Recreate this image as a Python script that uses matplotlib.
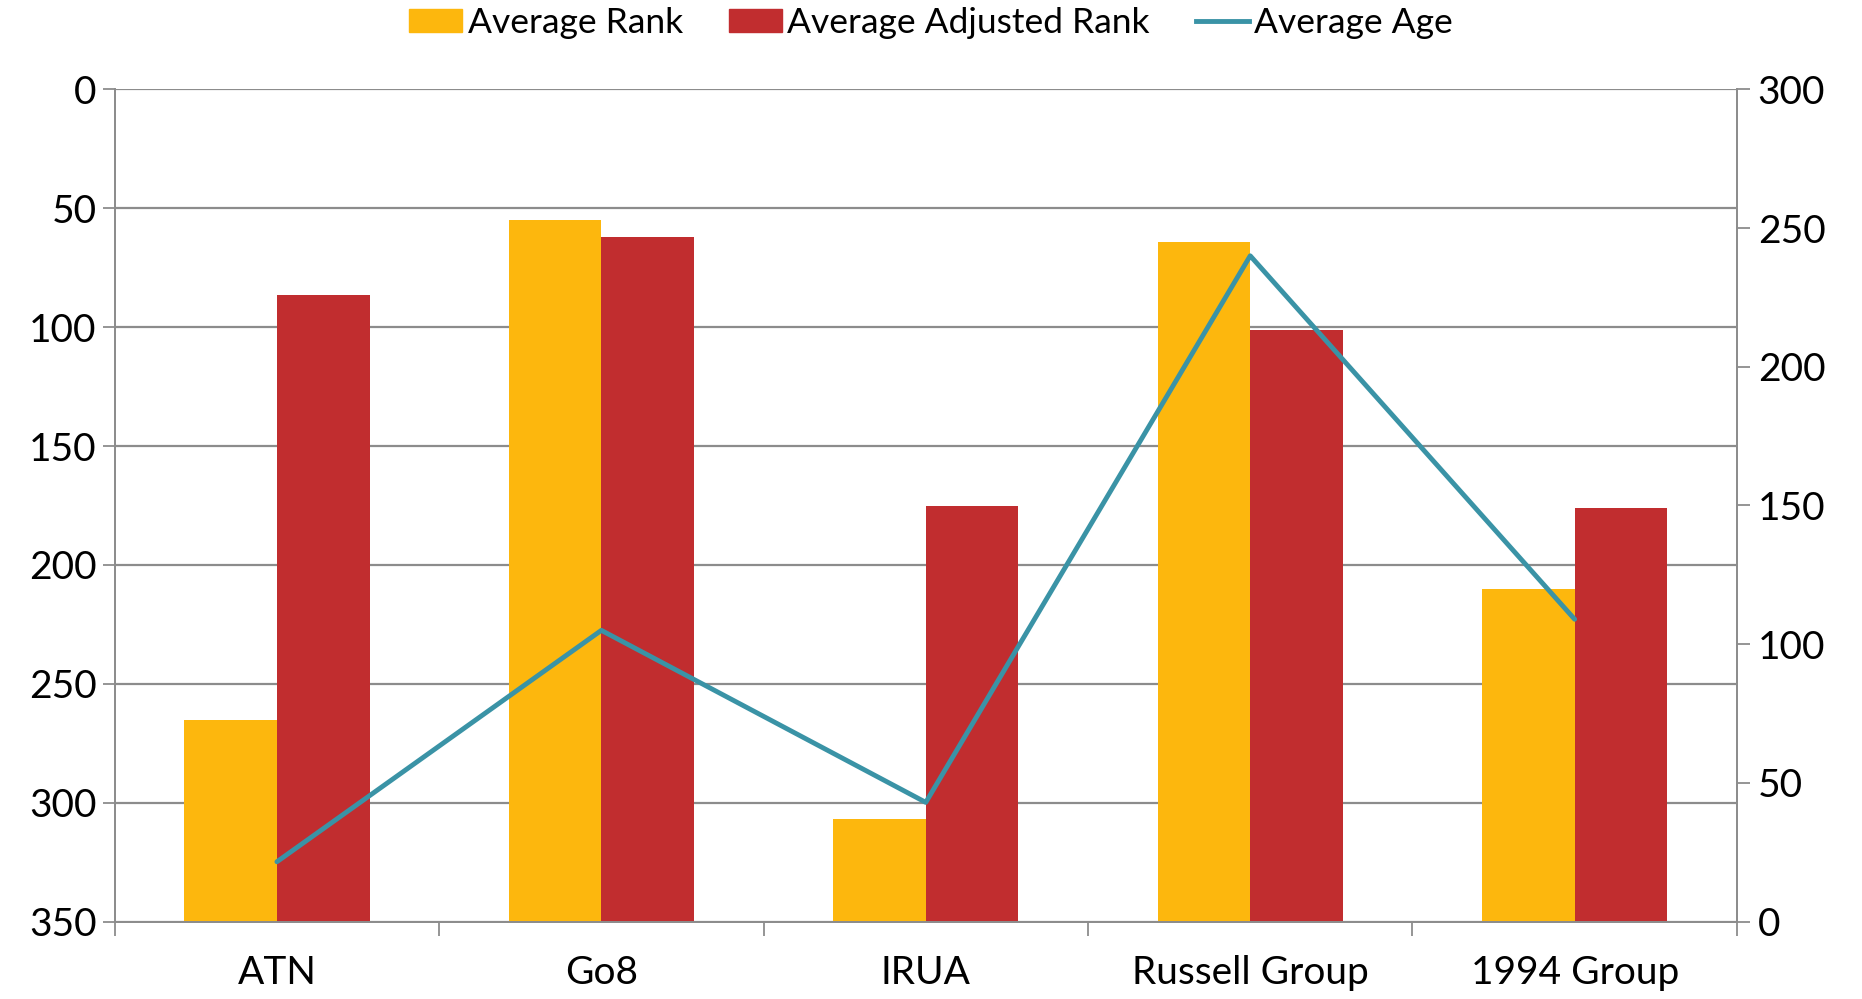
import matplotlib
matplotlib.use("Agg")
import matplotlib.pyplot as plt
import numpy as np
from matplotlib.patches import Patch
from matplotlib.lines import Line2D

categories = ["ATN", "Go8", "IRUA", "Russell Group", "1994 Group"]
avg_rank = [265, 55, 307, 64, 210]
avg_adj_rank = [86.5, 62, 175.3, 101, 176]
avg_age = [21.6, 105, 43, 240, 109]

rank_ticks = [0, 50, 100, 150, 200, 250, 300, 350]
age_ticks = [0, 50, 100, 150, 200, 250, 300]

YELLOW = "#FDB70D"
RED = "#C12D2F"
TEAL = "#3A93A6"
GRID = "#8C8C8C"

plt.rcParams['font.family'] = ['Lato', 'DejaVu Sans']

fig = plt.figure(figsize=(18.62, 9.99), dpi=100)
ax = fig.add_axes([0.0616, 0.0774, 0.8712, 0.8332])
ax2 = ax.twinx()

x = np.arange(len(categories))
w = 0.2857
base = 350
ax.bar(x - w / 2, np.array(avg_rank) - base, bottom=base, width=w, color=YELLOW, zorder=2)
ax.bar(x + w / 2, np.array(avg_adj_rank) - base, bottom=base, width=w, color=RED, zorder=2)
ax.set_ylim(350, 0)
ax.set_xlim(-0.5, len(categories) - 0.5)
ax.set_yticks(rank_ticks)
ax.yaxis.grid(True, color=GRID, linewidth=1.6, zorder=0)
ax.set_axisbelow(True)

ax2.plot(x, avg_age, color=TEAL, linewidth=3.5, solid_capstyle='round', zorder=3)
ax2.set_ylim(0, 300)
ax2.set_yticks(age_ticks)

for a in (ax, ax2):
    for s in a.spines.values():
        s.set_color(GRID)
        s.set_linewidth(1.3)
    a.spines['top'].set_visible(False)

ax.set_xticks(x)
ax.set_xticklabels(categories)
ax.set_xticks(np.arange(-0.5, len(categories), 1.0), minor=True)
ax.tick_params(axis='x', which='major', length=0, labelsize=28, pad=24)
ax.tick_params(axis='x', which='minor', length=10, width=1.3, color=GRID, direction='out')
ax.tick_params(axis='y', length=9, width=1.3, color=GRID, labelsize=28, pad=4, direction='out')
ax2.tick_params(axis='y', length=9, width=1.3, color=GRID, labelsize=28, pad=6, direction='out')

handles = [Patch(color=YELLOW), Patch(color=RED), Line2D([0], [0], color=TEAL, linewidth=3.5)]
labels = ["Average Rank", "Average Adjusted Rank", "Average Age"]
fig.legend(handles, labels, loc='center', bbox_to_anchor=(0.5, 0.977), ncol=3,
           frameon=False, fontsize=25.5, handlelength=1.5, handleheight=0.6,
           handletextpad=0.15, columnspacing=1.3, borderaxespad=0)

fig.savefig("out.png", dpi=100)
